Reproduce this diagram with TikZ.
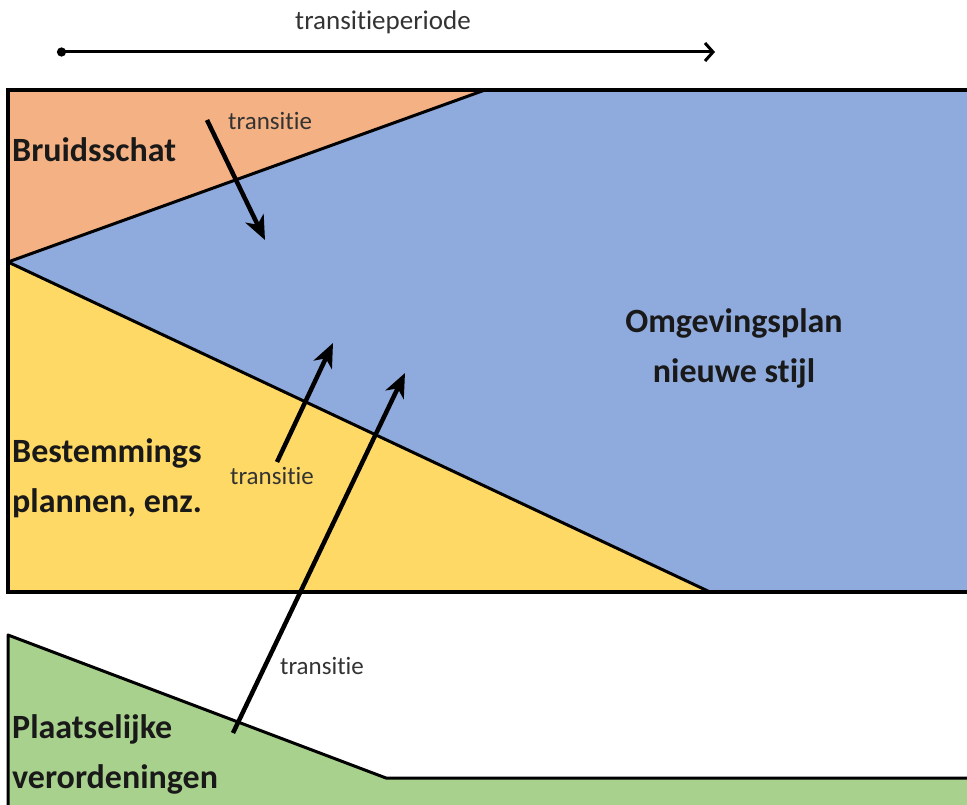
\documentclass[tikz,border=0pt]{standalone}
\usepackage{fontspec}
\setmainfont{Carlito}[Ligatures=NoCommon]
\usetikzlibrary{arrows.meta}
\definecolor{bruid}{RGB}{244,177,131}
\definecolor{blauw}{RGB}{143,170,220}
\definecolor{geel}{RGB}{255,217,102}
\definecolor{groen}{RGB}{169,209,142}
\begin{document}
\begin{tikzpicture}[x=1pt,y=-1pt,
	lbl/.style={font=\fontsize{34}{50}\selectfont\bfseries, text=black!90, inner sep=0pt, align=left},
	trans/.style={font=\fontsize{25}{30}\selectfont, text=black!80, inner sep=0pt},
	pijl/.style={line width=4.5pt, -{Stealth[length=24pt,width=20pt,inset=7pt]}},
	grens/.style={line width=3pt, line join=round}]
	\useasboundingbox (0,0) rectangle (967,805);
	\clip (0,0) rectangle (967,805);
	
	\fill[blauw] (8,90) rectangle (980,592);
	\fill[bruid] (8,90) -- (485,90) -- (8,262) -- cycle;
	\fill[geel] (8,262) -- (710,592) -- (8,592) -- cycle;
	\draw[grens] (8,262) -- (485,90);
	\draw[grens] (8,262) -- (710,592);
	\draw[line width=4pt] (980,90) -- (8,90) -- (8,592) -- (980,592);
	
	\fill[groen] (8,635) -- (386,778) -- (980,778) -- (980,810) -- (8,810) -- cycle;
	\draw[grens] (8,810) -- (8,635) -- (386,778) -- (980,778);
	
	\node[trans, font=\fontsize{27}{30}\selectfont] (P) at (383,22) {transitieperiode};
	\coordinate (P0) at (57,52);
	\coordinate (P1) at (715,52);
	\draw[line width=3pt, {Circle[length=9pt]}-{Straight Barb[length=8pt,width=18pt]}] (P0) -- (P1);
	
	\node[lbl, anchor=base west] (B) at (12,162) {Bruidsschat};
	\node[lbl, anchor=west] (S) at (12,478) {Bestemmings\\plannen, enz.};
	\node[lbl, align=center] (O) at (734,348) {Omgevingsplan\\nieuwe stijl};
	\node[lbl, anchor=west] (V) at (12,754) {Plaatselijke\\verordeningen};
	
	\node[trans, anchor=base west] (T1) at (228,130) {transitie};
	\node[trans] (T2) at (272,476) {transitie};
	\node[trans] (T3) at (322,666) {transitie};
	
	\coordinate (A1) at (207,120);
	\coordinate (A1') at (265,240);
	\coordinate (A2) at (277,462);
	\coordinate (A2') at (333,343);
	\coordinate (A3) at (233,733);
	\coordinate (A3') at (405,373);
	\draw[pijl] (A1) -- (A1');
	\draw[pijl] (A2) -- (A2');
	\draw[pijl] (A3) -- (A3');
\end{tikzpicture}
\end{document}
